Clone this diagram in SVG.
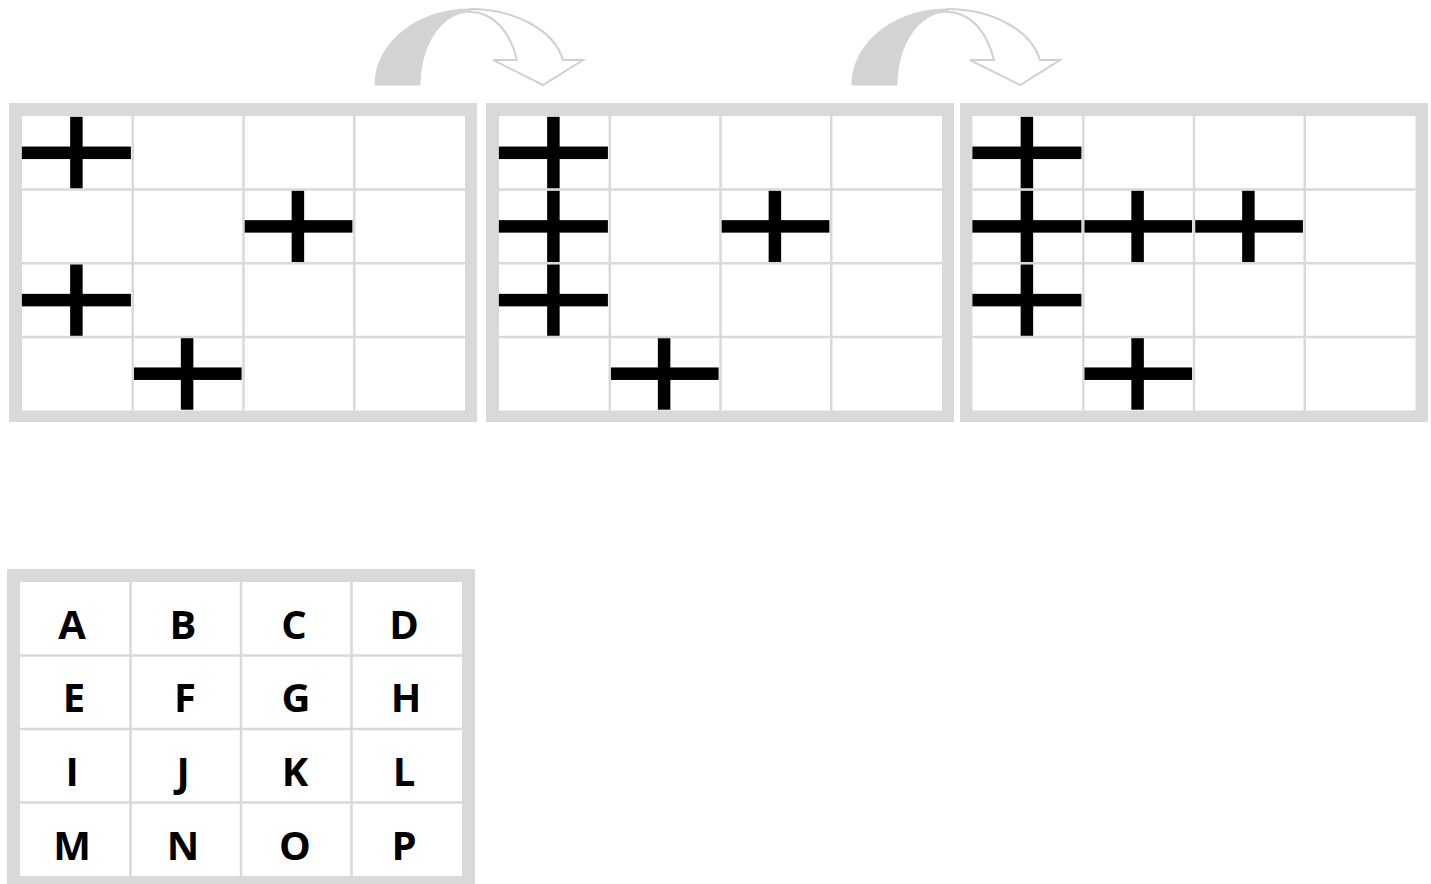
<svg xmlns="http://www.w3.org/2000/svg" xmlns:xlink="http://www.w3.org/1999/xlink" width="1431" height="884" viewBox="0 0 1431 884">
<style>
.frame{fill:#d9d9d9}
.inner{fill:#ffffff}
.gl{stroke:#d9d9d9;stroke-width:2.5;fill:none}
.lbl{font-family:"Open Sans","Liberation Sans",sans-serif;font-weight:700;font-size:40px;fill:#000;text-anchor:middle}
.arrow-fill{fill:#d3d3d3;stroke:#d3d3d3;stroke-width:1}
.arrow-out{fill:#ffffff;stroke:#d0d0d0;stroke-width:2;stroke-linejoin:miter}
</style>
<defs>
<g id="cross">
<rect x="-54.5" y="-6.25" width="109" height="12.5" fill="#000"/>
<rect x="-6.25" y="-36" width="12.5" height="72" fill="#000"/>
</g>
<g id="gridlines">
<line class="gl" x1="110.75" y1="0" x2="110.75" y2="294.5"/>
<line class="gl" x1="221.5" y1="0" x2="221.5" y2="294.5"/>
<line class="gl" x1="332.25" y1="0" x2="332.25" y2="294.5"/>
<line class="gl" x1="0" y1="73.6" x2="443" y2="73.6"/>
<line class="gl" x1="0" y1="147.25" x2="443" y2="147.25"/>
<line class="gl" x1="0" y1="220.9" x2="443" y2="220.9"/>
</g>
</defs>

<g id="grid1">
<rect class="frame" x="9" y="103" width="468" height="319"/>
<rect class="inner" x="22" y="116" width="443" height="294.5"/>
<use xlink:href="#cross" x="76.4" y="152.8"/>
<use xlink:href="#cross" x="297.9" y="226.4"/>
<use xlink:href="#cross" x="76.4" y="300.1"/>
<use xlink:href="#cross" x="187.1" y="373.7"/>
<use xlink:href="#gridlines" x="22" y="116"/>
</g>

<g id="grid2">
<rect class="frame" x="486" y="103" width="468" height="319"/>
<rect class="inner" x="499" y="116" width="443" height="294.5"/>
<use xlink:href="#cross" x="553.4" y="152.8"/>
<use xlink:href="#cross" x="553.4" y="226.4"/>
<use xlink:href="#cross" x="553.4" y="300.1"/>
<use xlink:href="#cross" x="774.9" y="226.4"/>
<use xlink:href="#cross" x="664.1" y="373.7"/>
<use xlink:href="#gridlines" x="499" y="116"/>
</g>

<g id="grid3">
<rect class="frame" x="960" y="103" width="468" height="319"/>
<rect class="inner" x="972.5" y="116" width="443" height="294.5"/>
<use xlink:href="#cross" x="1026.9" y="152.8"/>
<use xlink:href="#cross" x="1026.9" y="226.4"/>
<use xlink:href="#cross" x="1137.6" y="226.4"/>
<use xlink:href="#cross" x="1248.4" y="226.4"/>
<use xlink:href="#cross" x="1026.9" y="300.1"/>
<use xlink:href="#cross" x="1137.6" y="373.7"/>
<use xlink:href="#gridlines" x="972.5" y="116"/>
</g>

<g id="legend">
<rect class="frame" x="7" y="569" width="468" height="320"/>
<rect class="inner" x="20" y="582" width="442" height="294"/>
<g transform="translate(20,582)">
<line class="gl" x1="110.5" y1="0" x2="110.5" y2="294"/>
<line class="gl" x1="221" y1="0" x2="221" y2="294"/>
<line class="gl" x1="331.5" y1="0" x2="331.5" y2="294"/>
<line class="gl" x1="0" y1="73.5" x2="442" y2="73.5"/>
<line class="gl" x1="0" y1="147" x2="442" y2="147"/>
<line class="gl" x1="0" y1="220.5" x2="442" y2="220.5"/>
</g>
<text class="lbl" x="72" y="639">A</text>
<text class="lbl" x="183" y="639">B</text>
<text class="lbl" x="294" y="639">C</text>
<text class="lbl" x="404" y="639">D</text>
<text class="lbl" x="74" y="712">E</text>
<text class="lbl" x="185" y="712">F</text>
<text class="lbl" x="296" y="712">G</text>
<text class="lbl" x="406" y="712">H</text>
<text class="lbl" x="72" y="786">I</text>
<text class="lbl" x="183" y="786">J</text>
<text class="lbl" x="295" y="786">K</text>
<text class="lbl" x="404" y="786">L</text>
<text class="lbl" x="72" y="860">M</text>
<text class="lbl" x="183" y="860">N</text>
<text class="lbl" x="295" y="860">O</text>
<text class="lbl" x="404" y="860">P</text>
</g>

<g id="connectors">
<g id="arrow1">
<path class="arrow-fill" d="M375,85 C375,43 417,9 470,9 L470,12 C442,12 420,45 420,85 Z"/>
<path class="arrow-out" d="M470,9 C515,9 554,30 563,60 L583,60 L543,85 L493,60 L517,60 C510,32 494,12 470,12 Z"/>
</g>
<g id="arrow2" transform="translate(477,0)">
<path class="arrow-fill" d="M375,85 C375,43 417,9 470,9 L470,12 C442,12 420,45 420,85 Z"/>
<path class="arrow-out" d="M470,9 C515,9 554,30 563,60 L583,60 L543,85 L493,60 L517,60 C510,32 494,12 470,12 Z"/>
</g>
</g>
</svg>
